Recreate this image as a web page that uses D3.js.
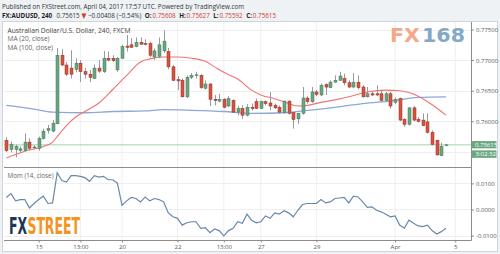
<!DOCTYPE html>
<html><head><meta charset="utf-8">
<script src="https://cdn.jsdelivr.net/npm/d3@7"></script>
<style>html,body{margin:0;padding:0;background:#eff2f5;overflow:hidden}svg{display:block;font-family:"Open Sans","DejaVu Sans",sans-serif}</style>
</head><body><svg id="c" width="500" height="254"></svg>
<script>
// ---- data ----
const opens  = [.7569,.7554,.7554,.7552,.7552,.7566,.7557,.7556,.7572,.7585,.7584,.7596,.7708,.7692,.7687,.7685,.7695,.7681,.7677,.7670,.7687,.7681,.7703,.7703,.7684,.7703,.7723,.7725,.7722,.7729,.7727,.7727,.7705,.7706,.7715,.7714,.7689,.7668,.7667,.7640,.7672,.7675,.7675,.7654,.7661,.7636,.7633,.7636,.7625,.7634,.7615,.7621,.7610,.7623,.7632,.7621,.7632,.7630,.7626,.7623,.7614,.7633,.7614,.7604,.7613,.7638,.7632,.7648,.7643,.7660,.7655,.7664,.7667,.7670,.7663,.7656,.7664,.7656,.7640,.7645,.7645,.7645,.7634,.7645,.7631,.7637,.7603,.7595,.7622,.7603,.7602,.7599,.7582,.7569,.7544,.75608];
const highs  = [.7574,.7567,.7562,.7559,.7580,.7572,.7561,.7575,.7588,.7594,.7602,.7720,.7718,.7697,.7716,.7703,.7700,.7687,.7684,.7693,.7700,.7715,.7714,.7708,.7705,.7725,.7741,.7736,.7737,.7737,.7734,.7730,.7719,.7737,.7749,.7720,.7692,.7674,.7670,.7675,.7679,.7681,.7677,.7667,.7662,.7643,.7645,.7638,.7641,.7636,.7625,.7626,.7628,.7629,.7637,.7634,.7634,.7648,.7629,.7626,.7634,.7634,.7616,.7614,.7656,.7641,.7656,.7651,.7662,.7662,.7667,.7675,.7681,.7678,.7667,.7679,.7675,.7659,.7656,.7649,.7659,.7651,.7648,.7648,.7639,.7639,.7605,.7623,.7625,.7607,.7613,.7613,.7585,.7570,.7565,.75627];
const lows   = [.7550,.7549,.7541,.7549,.7551,.7552,.7554,.7552,.7570,.7580,.7582,.7595,.7690,.7674,.7670,.7680,.7664,.7670,.7664,.7669,.7679,.7679,.7698,.7697,.7681,.7702,.7714,.7720,.7721,.7725,.7724,.7705,.7700,.7703,.7712,.7685,.7666,.7651,.7639,.7638,.7669,.7670,.7653,.7652,.7625,.7626,.7631,.7621,.7623,.7614,.7610,.7604,.7608,.7618,.7620,.7620,.7626,.7618,.7620,.7613,.7613,.7611,.7588,.7596,.7611,.7629,.7630,.7641,.7641,.7643,.7654,.7663,.7666,.7659,.7654,.7654,.7652,.7639,.7639,.7641,.7641,.7633,.7633,.7621,.7628,.7600,.7591,.7593,.7600,.7598,.7592,.7580,.7561,.7544,.7543,.75592];
const closes = [.7552,.7562,.7559,.7555,.7566,.7556,.7558,.7572,.7584,.7588,.7597,.7708,.7692,.7677,.7677,.7695,.7681,.7677,.7672,.7687,.7682,.7703,.7700,.7699,.7703,.7722,.7721,.7721,.7729,.7726,.7726,.7708,.7715,.7725,.7731,.7689,.7667,.7666,.7640,.7672,.7675,.7676,.7655,.7661,.7636,.7634,.7636,.7623,.7637,.7615,.7621,.7610,.7623,.7621,.7621,.7632,.7629,.7625,.7622,.7615,.7633,.7613,.7603,.7613,.7638,.7632,.7648,.7644,.7659,.7656,.7664,.7667,.7674,.7663,.7656,.7664,.7655,.7640,.7645,.7643,.7643,.7634,.7645,.7625,.7636,.7602,.7595,.7622,.7602,.7600,.7593,.7582,.7562,.7545,.7559,.75615];
const ma20Idx  = [0,4,8,10,11,13,15,17,20,23,26,29,31,34,37,40,43,45,47,50,53,55,58,61,63,65,68,71,74,78,82,85,87,89,92,95];
const ma20Val  = [.7540,.7551,.7559,.7566,.7575,.7593,.7607,.7616,.7630,.7652,.7675,.7697,.7702,.7705,.7705,.7703,.7698,.7689,.7680,.7669,.7651,.7643,.7637,.7629,.7625,.7626,.7631,.7635,.7640,.7648,.7651,.7650,.7647,.7641,.7627,.7610];
const ma100Idx = [0,6,10,17,23,30,34,40,47,53,60,64,70,77,84,89,95];
const ma100Val = [.7626,.7620,.7615,.7614,.7616,.7617,.7619,.7618,.7616,.7613,.7614,.7617,.7622,.7629,.7634,.7639,.7640];
const momVals = [.0046,.0061,.0033,.0038,.0038,.0006,.0023,.0038,.0051,.0023,.0025,.0141,.0111,.0105,.0130,.0130,.0127,.0122,.0108,.0130,.0124,.0127,.0114,.0114,.0101,.0016,.0033,.0046,.0042,.0029,.0048,.0033,.0042,.0038,.0029,-.0013,-.0028,-.0034,-.0060,-.0051,-.0047,-.0047,-.0072,-.0070,-.0089,-.0075,-.0081,-.0101,-.0081,-.0072,-.0047,-.0053,-.0018,
 -.0041,-.0051,-.0047,-.0025,-.0034,-.0013,-.0018,-.0005,-.0013,-.0028,-.0003,.0019,.0023,.0023,.0023,.0038,.0025,.0029,.0042,.0044,.0046,.0025,.0051,.0048,.0029,.0008,.0010,-.0003,-.0009,-.0018,-.0028,-.0025,-.0060,-.0072,-.0041,-.0053,-.0063,-.0066,-.0060,-.0081,-.0094,-.0085,-.0072];
const priceTicks = [0.775,0.770,0.765,0.760,0.755];
const momTicks = [0.01,0,-0.01];
const timeLabels = ["15","13:00","20","22","13:00","27","29","Apr","5"];
const timeIdx = [7,16,25,37,47,55,67,84,97];
const lastPrice = 0.75615;
const countdown = "3:02:32";

// ---- drawing ----
const svg = d3.select("#c");
const L=4, R=471.5, T=22, SEP=167.5, B=240.5;
svg.append("rect").attr("width",500).attr("height",254).attr("fill","#eff2f5");
svg.append("rect").attr("x",2.5).attr("y",21.5).attr("width",495).attr("height",230).attr("fill","#fff").attr("stroke","#cfd5db");

const x = d3.scaleLinear().domain([-0.5,100.3]).range([L,470.5]);
const y = d3.scaleLinear().domain([0.75245,0.77623]).range([SEP,T]);
const ym = d3.scaleLinear().domain([-0.0119,0.0161]).range([B,SEP]);
const yl = y(lastPrice);

// lay out text pieces one after another at natural width, then squeeze the group to a target width
function seqText(x0, y0, targetW, items, base){
  const grp = svg.append("g");
  let cx = 0;
  items.forEach(it=>{
    const t = grp.append("text").attr("x",cx).attr("y",0).text(it.t);
    base(t); if(it.fill) t.attr("fill",it.fill); if(it.bold) t.attr("font-weight","bold");
    cx += t.node().getComputedTextLength() + (it.gap||0);
  });
  grp.attr("transform",`translate(${x0},${y0}) scale(${targetW/cx},1)`);
  return grp;
}

// grid
const g = svg.append("g");
g.selectAll(".vg").data(timeIdx).join("line").attr("x1",d=>x(d)).attr("x2",d=>x(d)).attr("y1",T).attr("y2",B).attr("stroke","#efefef");
g.selectAll(".hg").data(priceTicks).join("line").attr("x1",L).attr("x2",R).attr("y1",d=>Math.round(y(d))+.5).attr("y2",d=>Math.round(y(d))+.5).attr("stroke","#efefef");
g.selectAll(".hm").data(momTicks).join("line").attr("x1",L).attr("x2",R).attr("y1",d=>Math.round(ym(d))+.5).attr("y2",d=>Math.round(ym(d))+.5).attr("stroke","#efefef");

// FX168 watermark
seqText(390, 41.7, 75, [{t:"FX",fill:"#f3a98a",gap:2},{t:"168",fill:"#84a9c6"}],
  t=>t.attr("font-family","DejaVu Sans").attr("font-weight","bold").attr("font-size",19.5));

// FXSTREET logo
seqText(9, 234, 71, [{t:"FX",fill:"#1b3658",gap:0.5},{t:"STREET",fill:"#f39322"}],
  t=>t.attr("font-family","'Liberation Sans Narrow','DejaVu Sans Condensed',sans-serif").attr("font-weight","bold").attr("font-size",23));

// current price line
svg.append("line").attr("x1",L).attr("x2",R).attr("y1",yl).attr("y2",yl).attr("stroke","#9fd3ad").attr("stroke-width",1);

// MA lines
const ma100 = ma100Idx.map((d,i)=>[d,ma100Val[i]]);
const ma20 = ma20Idx.map((d,i)=>[d,ma20Val[i]]);
const line = d3.line().x(d=>x(d[0])).y(d=>y(d[1])).curve(d3.curveMonotoneX);
svg.append("path").attr("d",line(ma100)).attr("fill","none").attr("stroke","#8ea6d8").attr("stroke-width",1.3);
svg.append("path").attr("d",line(ma20)).attr("fill","none").attr("stroke","#f27272").attr("stroke-width",1.1);

// candles
const cd = opens.map((o,i)=>({i,o,h:highs[i],l:lows[i],c:closes[i]}));
const cg = svg.append("g");
cg.selectAll(".w").data(cd).join("line").attr("x1",d=>Math.round(x(d.i))+.5).attr("x2",d=>Math.round(x(d.i))+.5)
  .attr("y1",d=>y(d.h)).attr("y2",d=>y(d.l)).attr("stroke","#9a9a9c").attr("stroke-width",1);
cg.selectAll(".b").data(cd).join("rect").attr("x",d=>Math.round(x(d.i))-1).attr("width",3)
  .attr("y",d=>y(Math.max(d.o,d.c))).attr("height",d=>Math.max(0.8,Math.abs(y(d.o)-y(d.c))))
  .attr("fill",d=>d.c>=d.o?"#6ba583":"#d75442").attr("stroke",d=>d.c>=d.o?"#3f7a56":"#8e2f22").attr("stroke-width",0.5);

// momentum
svg.append("path").attr("d",d3.line().x((d,i)=>x(i)).y(d=>ym(d))(momVals)).attr("fill","none").attr("stroke","#6a88ac").attr("stroke-width",1.2);

// frame lines
svg.append("line").attr("x1",L).attr("x2",R).attr("y1",SEP).attr("y2",SEP).attr("stroke","#8c8c8c");
svg.append("line").attr("x1",L).attr("x2",R).attr("y1",B).attr("y2",B).attr("stroke","#8c8c8c");
svg.append("line").attr("x1",R).attr("x2",R).attr("y1",T).attr("y2",B).attr("stroke","#8c8c8c");
svg.append("line").attr("x1",L-1.5).attr("x2",L-1.5).attr("y1",T).attr("y2",B).attr("stroke","#cfd5db");

// axes (price labels hidden by the last-price boxes are not drawn)
const visTicks = priceTicks.filter(t=>Math.abs(y(t)-yl)>12);
const ax = svg.append("g").attr("transform",`translate(${R},0)`)
  .call(d3.axisRight(y).tickValues(visTicks).tickFormat(d3.format(".5f")).tickSize(2.5).tickPadding(2));
const axm = svg.append("g").attr("transform",`translate(${R},0)`)
  .call(d3.axisRight(ym).tickValues(momTicks).tickFormat(d3.format(".4f")).tickSize(2.5).tickPadding(2));
const axb = svg.append("g").attr("transform",`translate(0,${B})`)
  .call(d3.axisBottom(x).tickValues(timeIdx).tickFormat((d,i)=>timeLabels[i]).tickSize(2).tickPadding(2));
[ax,axm,axb].forEach(a=>{a.select(".domain").remove();a.selectAll("line").attr("stroke","#8c8c8c");
  a.selectAll("text").attr("fill","#555").attr("font-size",6).attr("font-family","'Open Sans',sans-serif");});
axm.selectAll("text").filter(d=>d<0).text(d=>"-"+d3.format(".4f")(-d));

// price label boxes
svg.append("rect").attr("x",R+0.5).attr("y",yl-3.8).attr("width",24.5).attr("height",7.3).attr("fill","#6aa882");
svg.append("text").attr("x",R+3.5).attr("y",yl+2.2).attr("fill","#fff").attr("font-size",6).text(d3.format(".5f")(lastPrice));
svg.append("rect").attr("x",R+0.5).attr("y",yl+5.5).attr("width",24.5).attr("height",7.5).attr("fill","#6aa882");
svg.append("text").attr("x",R+4).attr("y",yl+11.6).attr("fill","#fff").attr("font-size",6).text(countdown);

// legends
const leg = [["Australian Dollar/U.S. Dollar, 240, FXCM",32.5,123,"#444"],["MA (20, close)",41,42,"#666"],["MA (100, close)",49.5,45.5,"#666"],["Mom (14, close)",178,46,"#666"]];
leg.forEach(([t,yy,w,f])=>svg.append("text").attr("x",7.5).attr("y",yy).attr("font-size",7).attr("fill",f).attr("textLength",w).attr("lengthAdjust","spacingAndGlyphs").text(t));

// header
svg.append("text").attr("x",2).attr("y",8.6).attr("font-size",7.2).attr("fill","#333").attr("textLength",242).attr("lengthAdjust","spacingAndGlyphs")
  .text("Published on FXStreet.com, April 04, 2017 17:57 UTC. Powered by TradingView.com");
const red="#d43a2f";
seqText(2, 17.8, 274, [
  {t:"FX:AUDUSD, 240",bold:true,fill:"#222",gap:5},{t:"0.75615",gap:2},{t:"\u25BC",fill:red,gap:2},{t:"\u22120.00408 (\u22120.54%)",gap:4},
  {t:"O:",bold:true,fill:"#222",gap:1},{t:"0.75608",fill:red,gap:4},{t:"H:",bold:true,fill:"#222",gap:1},{t:"0.75627",fill:red,gap:4},
  {t:"L:",bold:true,fill:"#222",gap:1},{t:"0.75592",fill:red,gap:4},{t:"C:",bold:true,fill:"#222",gap:1},{t:"0.75615",fill:red}],
  t=>t.attr("font-size",7.2).attr("fill","#333"));
</script></body></html>
